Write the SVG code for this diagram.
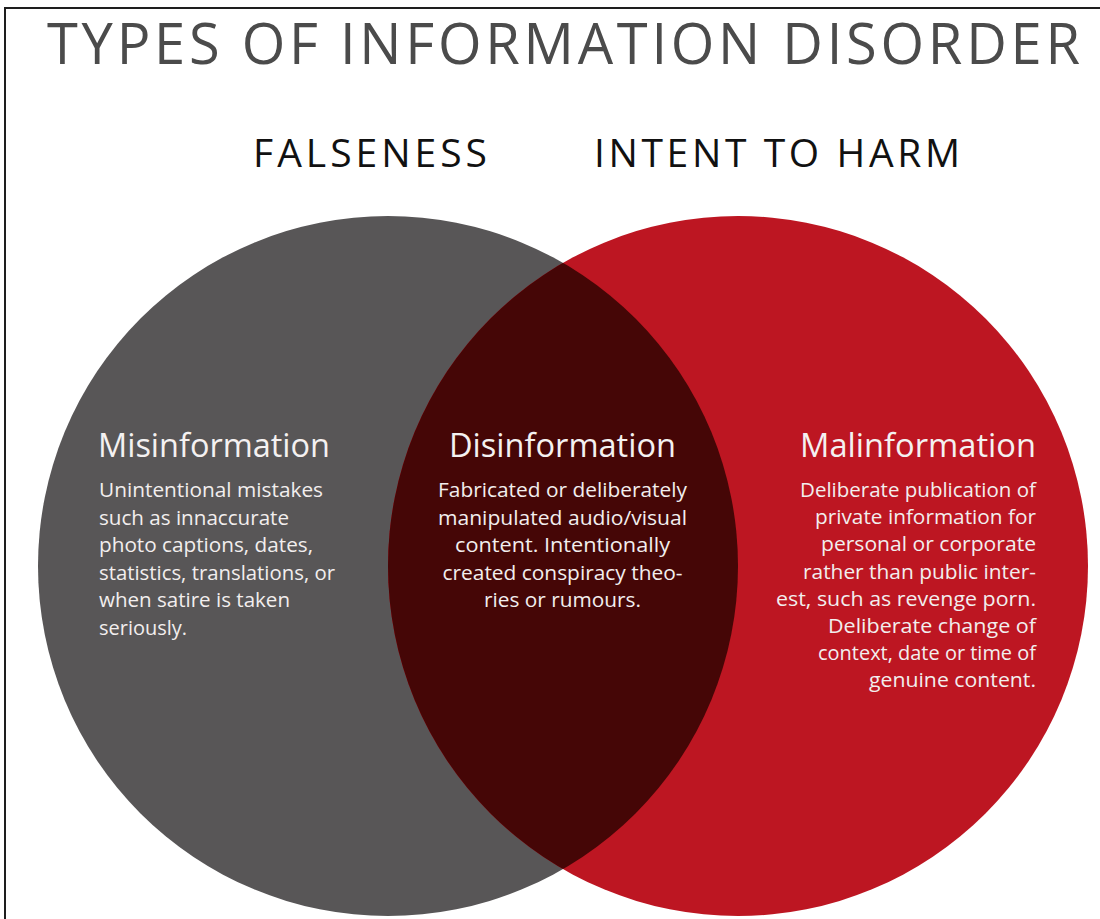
<svg xmlns="http://www.w3.org/2000/svg" width="1100" height="919" viewBox="0 0 1100 919">
<style>
.title{font-family:"Open Sans","Liberation Sans",sans-serif;font-size:56px;fill:#4b4b4b;}
.head{font-family:"Open Sans","Liberation Sans",sans-serif;font-size:39px;fill:#111;}
.name{font-family:"Open Sans","Liberation Sans",sans-serif;font-size:32px;fill:#f4f1f1;}
.body{font-family:"Open Sans","Liberation Sans",sans-serif;font-size:19.5px;fill:#f2eeee;}
</style>
<defs>
<clipPath id="clipL"><circle cx="388" cy="566" r="350"/></clipPath>
</defs>
<rect width="1100" height="919" fill="#ffffff"/>
<path d="M5,919 V8 H1100" fill="none" stroke="#1e1e1e" stroke-width="2"/>
<text class="title" x="47" y="64" textLength="1033" lengthAdjust="spacing">TYPES OF INFORMATION DISORDER</text>
<text class="head" x="253" y="167" textLength="234" lengthAdjust="spacing">FALSENESS</text>
<text class="head" x="594" y="167" textLength="366" lengthAdjust="spacing">INTENT TO HARM</text>
<g id="circles">
<circle id="falseness" cx="388" cy="566" r="350" fill="#585657"/>
<circle id="harm" cx="738" cy="566" r="350" fill="#bd1622"/>
<circle id="overlap" cx="738" cy="566" r="350" fill="#450606" clip-path="url(#clipL)"/>
</g>
<g id="misinformation">
<text class="name" x="98" y="457" textLength="232" lengthAdjust="spacingAndGlyphs">Misinformation</text>
<text class="body" x="99" y="497" textLength="224" lengthAdjust="spacingAndGlyphs">Unintentional mistakes</text>
<text class="body" x="99" y="524.5" textLength="190" lengthAdjust="spacingAndGlyphs">such as innaccurate</text>
<text class="body" x="99" y="552" textLength="214" lengthAdjust="spacingAndGlyphs">photo captions, dates,</text>
<text class="body" x="99" y="579.5" textLength="236" lengthAdjust="spacingAndGlyphs">statistics, translations, or</text>
<text class="body" x="99" y="607" textLength="191" lengthAdjust="spacingAndGlyphs">when satire is taken</text>
<text class="body" x="99" y="634.5" textLength="88" lengthAdjust="spacingAndGlyphs">seriously.</text>
</g>
<g id="disinformation" text-anchor="middle">
<text class="name" x="562.5" y="457" textLength="227" lengthAdjust="spacingAndGlyphs">Disinformation</text>
<text class="body" x="562.5" y="497" textLength="249" lengthAdjust="spacingAndGlyphs">Fabricated or deliberately</text>
<text class="body" x="562.5" y="524.5" textLength="249" lengthAdjust="spacingAndGlyphs">manipulated audio/visual</text>
<text class="body" x="562.5" y="552" textLength="215" lengthAdjust="spacingAndGlyphs">content. Intentionally</text>
<text class="body" x="562.5" y="579.5" textLength="240" lengthAdjust="spacingAndGlyphs">created conspiracy theo-</text>
<text class="body" x="562.5" y="607" textLength="157" lengthAdjust="spacingAndGlyphs">ries or rumours.</text>
</g>
<g id="malinformation" text-anchor="end">
<text class="name" x="1036" y="457" textLength="236" lengthAdjust="spacingAndGlyphs">Malinformation</text>
<text class="body" x="1036" y="497" textLength="236" lengthAdjust="spacingAndGlyphs">Deliberate publication of</text>
<text class="body" x="1036" y="524.2" textLength="221" lengthAdjust="spacingAndGlyphs">private information for</text>
<text class="body" x="1036" y="551.4" textLength="215" lengthAdjust="spacingAndGlyphs">personal or corporate</text>
<text class="body" x="1036" y="578.6" textLength="233" lengthAdjust="spacingAndGlyphs">rather than public inter-</text>
<text class="body" x="1036" y="605.8" textLength="260" lengthAdjust="spacingAndGlyphs">est, such as revenge porn.</text>
<text class="body" x="1036" y="633" textLength="208" lengthAdjust="spacingAndGlyphs">Deliberate change of</text>
<text class="body" x="1036" y="660.2" textLength="218" lengthAdjust="spacingAndGlyphs">context, date or time of</text>
<text class="body" x="1036" y="687.4" textLength="167" lengthAdjust="spacingAndGlyphs">genuine content.</text>
</g>
<g id="connectors"/>
</svg>
